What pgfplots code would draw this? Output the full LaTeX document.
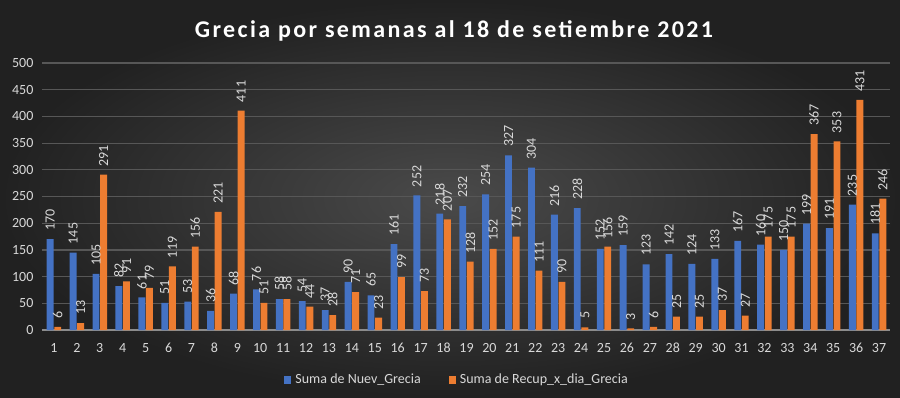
\documentclass[border=0pt]{standalone}
\usepackage{fontspec}
\setmainfont{Carlito}
\newfontfamily\titlefont[LetterSpace=10]{Carlito}
\usepackage{pgfplots}
\usepackage{pgfplotstable}
\pgfplotsset{compat=1.18}
\definecolor{bgA}{HTML}{4A4A4A}
\definecolor{bgB}{HTML}{212121}
\definecolor{cblue}{HTML}{4472C4}
\definecolor{corange}{HTML}{ED7D31}
\definecolor{txt}{HTML}{D9D9D9}
\definecolor{gridc}{HTML}{575757}
\definecolor{axc}{HTML}{8C8C8C}

\pgfplotstableread{
x nuev recup
1 170 6
2 145 13
3 105 291
4 82 91
5 61 79
6 51 119
7 53 156
8 36 221
9 68 411
10 76 51
11 58 58
12 54 44
13 37 28
14 90 71
15 65 23
16 161 99
17 252 73
18 218 207
19 232 128
20 254 152
21 327 175
22 304 111
23 216 90
24 228 5
25 152 156
26 159 3
27 123 6
28 142 25
29 124 25
30 133 37
31 167 27
32 160 175
33 150 175
34 199 367
35 191 353
36 235 431
37 181 246
}\datatable

\begin{document}
\begin{tikzpicture}
\shade[inner color=bgA, outer color=bgB] (0,0) rectangle (450pt,198.5pt);
\node[font=\titlefont\bfseries\fontsize{12}{14}\selectfont, text=white] at (227pt,183pt) {Grecia por semanas al 18 de setiembre 2021};
\begin{axis}[
  at={(21.25pt,33.5pt)}, anchor=south west,
  width=424pt, height=133.5pt, scale only axis,
  xmin=0.5, xmax=37.5, ymin=0, ymax=500,
  xtick={1,...,37}, ytick={0,50,...,500},
  major tick length=0pt,
  ymajorgrids, major grid style={gridc, line width=0.6pt},
  axis x line*=bottom, axis y line*=left,
  x axis line style={axc, line width=0.8pt, -},
  y axis line style={draw=none},
  tick label style={font=\fontsize{7}{8}\selectfont, text=txt},
  xticklabel style={yshift=-3pt},
  yticklabel style={xshift=-1pt},
  /pgf/number format/assume math mode=true,
  bar width=0.3,
  legend columns=2,
  legend style={at={(0.49,-0.187)}, anchor=center, draw=none, fill=none, font=\fontsize{7}{8}\selectfont, text=txt, /tikz/every even column/.append style={column sep=12pt}},
  legend image code/.code={\fill[#1] (0pt,-1.8pt) rectangle (3.6pt,1.8pt);},
  lbl/.style={draw=none, mark=none, forget plot, nodes near coords,
    every node near coord/.append style={rotate=90, anchor=west, font=\fontsize{7}{8}\selectfont, text=txt, inner sep=4pt}},
]
\addplot[ybar, fill=cblue, draw=none, bar shift=-0.165] table[x=x, y=nuev] {\datatable};
\addlegendentry{Suma de Nuev\_Grecia}
\addplot[ybar, fill=corange, draw=none, bar shift=0.165] table[x=x, y=recup] {\datatable};
\addlegendentry{Suma de Recup\_x\_dia\_Grecia}
\addplot[lbl] table[x expr=\thisrow{x}-0.165, y=nuev] {\datatable};
\addplot[lbl] table[x expr=\thisrow{x}+0.165, y=recup] {\datatable};
\end{axis}
\end{tikzpicture}
\end{document}
